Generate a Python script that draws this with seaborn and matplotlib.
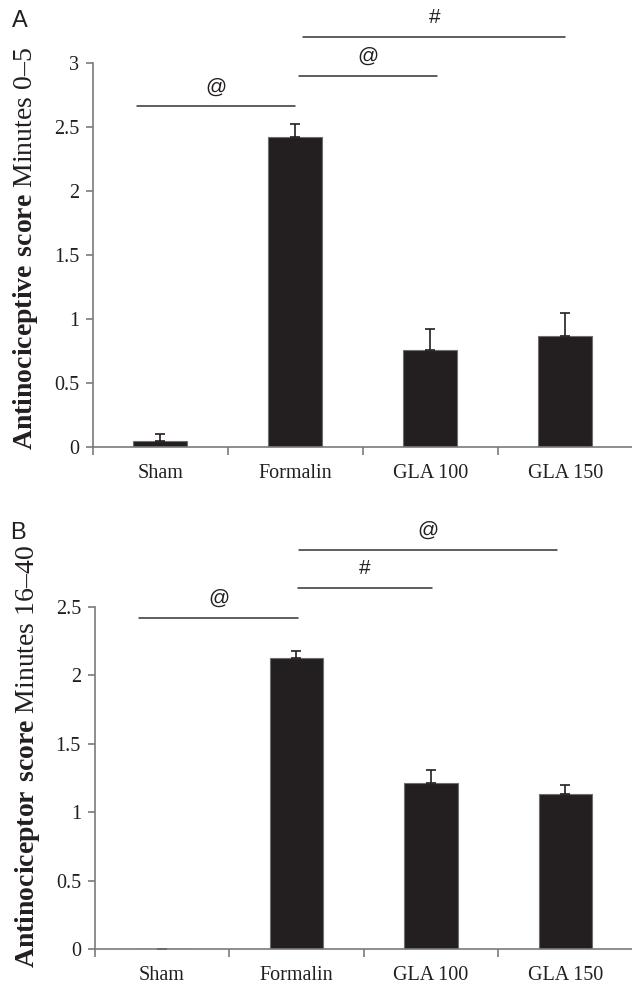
import numpy as np
import pandas as pd
import seaborn as sns
import matplotlib.pyplot as plt

# data
groups = ["Sham", "Formalin", "GLA 100", "GLA 150"]
score_a = [0.05, 2.42, 0.76, 0.87]
err_a = [0.05, 0.10, 0.16, 0.18]
score_b = [0.003, 2.13, 1.21, 1.13]
err_b = [0.0, 0.05, 0.10, 0.07]

# significance brackets: (x start, x end, y, symbol)
sig_a = [(-0.17, 1.0, 2.66, "@"), (1.03, 2.05, 2.90, "@"), (1.06, 3.0, 3.20, "#")]
sig_b = [(-0.17, 1.01, 2.42, "@"), (1.01, 2.01, 2.64, "#"), (1.02, 2.94, 2.92, "@")]

sns.set_theme(style="white")
plt.rcParams["font.family"] = ["Liberation Serif", "DejaVu Serif"]
plt.rcParams["mathtext.fontset"] = "custom"
plt.rcParams["mathtext.rm"] = "Liberation Serif"
plt.rcParams["mathtext.bf"] = "Liberation Serif:bold"

fig = plt.figure(figsize=(6.32, 9.86), dpi=100)
ax_a = fig.add_axes([0.147, 0.5467, 0.854, 0.3895])
ax_b = fig.add_axes([0.150, 0.0375, 0.851, 0.3469])

bar_col = "#231f20"
spine_col = "#7a7a7a"


def panel(ax, vals, errs, sigs, ymax, ylabel, label_y):
    df = pd.DataFrame({"group": groups, "score": vals})
    sns.barplot(data=df, x="group", y="score", color=bar_col, width=0.4,
                edgecolor="#6e6e6e", linewidth=0.8, saturation=1, ax=ax)
    ax.errorbar(np.arange(len(groups)), vals, yerr=[np.zeros(len(errs)), errs],
                fmt="none", ecolor=bar_col, elinewidth=1.2, capsize=3.3, capthick=1.2)
    ax.set_xlim(-0.5, 3.5)
    ax.set_ylim(0, ymax)
    ticks = np.arange(0, ymax + 0.01, 0.5)
    ax.set_yticks(ticks)
    ax.set_yticklabels([f"{t:g}" for t in ticks])
    ax.set_xticks([-0.5, 0.5, 1.5, 2.5, 3.5], minor=True)
    ax.tick_params(axis="x", which="major", length=0, pad=12, labelsize=14.5, colors="#231f20")
    ax.tick_params(axis="x", which="minor", length=6, width=1.2, color=spine_col, direction="out", bottom=True)
    ax.tick_params(axis="y", length=5, width=1.2, color=spine_col, direction="out", left=True,
                   pad=5, labelsize=14.5, labelcolor="#231f20")
    for s in ["top", "right"]:
        ax.spines[s].set_visible(False)
    for s in ["left", "bottom"]:
        ax.spines[s].set_color(spine_col)
        ax.spines[s].set_linewidth(1.2)
    ax.set_xlabel("")
    ax.set_ylabel(ylabel, fontsize=20, color="#231f20")
    ax.yaxis.set_label_coords(-0.098, label_y)
    for x0, x1, y, sym in sigs:
        ax.plot([x0, x1], [y, y], color="#333333", lw=1.1, clip_on=False)
        ax.annotate(sym, xy=((x0 + x1) / 2, y), xytext=(0, 14), textcoords="offset points",
                    ha="center", va="center", fontsize=15, family="Liberation Sans",
                    color="#231f20", annotation_clip=False)


panel(ax_a, score_a, err_a, sig_a, 3.0,
      r"$\mathbf{Antinociceptive\ score}$ Minutes 0–5", 0.518)
panel(ax_b, score_b, err_b, sig_b, 2.5,
      r"$\mathbf{Antinociceptor\ score}$ Minutes 16–40", 0.564)

fig.text(0.032, 0.979, "A", fontsize=17, family="Liberation Sans", ha="center", va="center", color="#231f20")
fig.text(0.029, 0.459, "B", fontsize=17, family="Liberation Sans", ha="center", va="center", color="#231f20")

fig.savefig("out.png", dpi=100, facecolor="white")
